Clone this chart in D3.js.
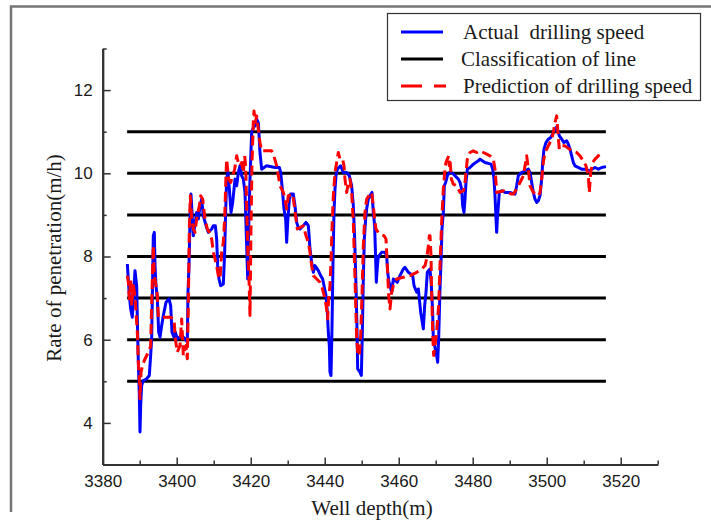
<!DOCTYPE html>
<html>
<head>
<meta charset="utf-8">
<script src="https://cdn.jsdelivr.net/npm/d3@7"></script>
<style>
  body { margin: 0; background: #fff; }
  svg { display: block; }
</style>
</head>
<body>
<div id="chart"></div>
<script>
// well depth (m), rate of penetration (m/h)
const actualSpeed = [[3386.66,7.82],[3387.2,7.06],[3387.56,6.74],[3388.0,6.54],[3388.73,7.66],[3389.18,7.30],[3389.36,6.50],[3389.63,5.46],[3389.9,4.66],[3390.08,3.78],[3390.26,4.42],[3390.53,4.90],[3390.98,5.02],[3391.88,5.06],[3392.6,5.14],[3392.96,5.62],[3393.23,6.02],[3393.5,7.46],[3393.68,8.50],[3393.95,8.58],[3394.14,7.78],[3394.4,7.30],[3394.77,6.98],[3395.13,6.18],[3395.49,6.06],[3395.94,6.34],[3396.39,6.58],[3397.11,6.90],[3397.92,6.98],[3398.37,6.82],[3398.73,6.18],[3399.27,6.06],[3399.63,6.18],[3400.17,6.02],[3401.34,6.10],[3402.24,6.02],[3402.87,5.94],[3403.05,7.14],[3403.32,7.78],[3403.59,8.82],[3403.86,9.50],[3404.14,9.06],[3404.5,8.50],[3404.86,8.74],[3405.4,9.06],[3405.85,8.90],[3406.3,9.22],[3406.75,9.38],[3407.2,8.98],[3407.92,8.74],[3408.55,8.58],[3409.45,8.66],[3409.9,8.74],[3410.44,8.74],[3410.8,8.42],[3411.07,7.78],[3411.43,7.46],[3411.88,7.30],[3412.6,7.34],[3412.96,8.10],[3413.23,9.06],[3413.5,9.86],[3413.86,10.02],[3414.23,9.62],[3414.68,9.06],[3415.13,9.30],[3415.76,9.86],[3416.21,9.70],[3416.66,10.02],[3417.11,10.18],[3417.56,9.94],[3418.01,9.86],[3418.46,9.54],[3418.91,8.26],[3419.18,7.46],[3419.45,8.66],[3419.81,9.86],[3420.26,10.98],[3420.71,11.10],[3421.16,11.14],[3421.61,11.30],[3422.06,11.22],[3422.51,10.50],[3422.96,10.10],[3424.31,10.18],[3426.57,10.14],[3427.74,10.14],[3428.1,10.02],[3428.55,9.62],[3429.0,9.14],[3429.45,8.90],[3429.72,8.34],[3430.0,8.82],[3430.44,9.38],[3430.8,9.50],[3431.52,9.50],[3431.97,9.22],[3432.42,8.82],[3432.87,8.70],[3433.32,8.66],[3434.22,8.74],[3434.94,8.82],[3435.58,8.74],[3436.03,8.18],[3436.48,7.86],[3436.93,7.62],[3437.38,7.78],[3438.28,7.66],[3438.91,7.54],[3439.45,7.46],[3439.99,7.22],[3440.35,7.06],[3440.71,6.66],[3440.98,6.18],[3441.25,5.86],[3441.43,5.22],[3441.7,5.14],[3441.97,6.26],[3442.24,7.86],[3442.51,9.06],[3442.78,9.62],[3443.05,9.94],[3443.41,10.10],[3444.31,10.18],[3445.03,10.02],[3445.94,10.02],[3446.66,9.94],[3447.29,9.70],[3447.74,9.22],[3448.1,8.42],[3448.46,7.30],[3448.73,6.26],[3448.91,5.30],[3449.54,5.22],[3449.9,5.14],[3450.17,6.18],[3450.44,7.46],[3450.71,8.42],[3451.07,8.90],[3451.34,9.14],[3451.79,9.38],[3452.24,9.46],[3452.78,9.54],[3453.14,9.06],[3453.5,8.74],[3453.77,7.94],[3453.95,7.38],[3454.13,7.62],[3454.4,7.94],[3454.68,8.02],[3455.4,8.10],[3456.3,8.10],[3456.75,8.02],[3457.02,7.62],[3457.38,7.38],[3457.65,7.30],[3458.1,7.14],[3458.55,7.46],[3459.63,7.38],[3460.35,7.54],[3461.25,7.70],[3461.7,7.74],[3462.6,7.62],[3463.24,7.58],[3463.78,7.54],[3464.14,7.30],[3464.86,7.14],[3465.31,7.22],[3465.58,6.98],[3465.94,6.66],[3466.66,6.26],[3467.02,6.82],[3467.38,7.14],[3467.74,7.62],[3468.46,7.70],[3468.82,7.30],[3469.18,6.66],[3469.36,6.02],[3469.9,5.78],[3470.26,5.62],[3470.53,5.46],[3470.8,6.02],[3471.16,7.22],[3471.43,7.86],[3471.7,8.66],[3472.06,9.06],[3472.33,9.70],[3472.69,9.78],[3473.15,9.94],[3473.69,10.02],[3474.32,10.02],[3475.22,9.94],[3476.12,9.86],[3476.57,9.78],[3477.02,9.62],[3477.29,9.22],[3477.65,9.06],[3477.92,9.38],[3478.19,9.78],[3478.55,10.10],[3479.27,10.14],[3480.17,10.22],[3481.52,10.30],[3481.97,10.34],[3483.33,10.26],[3484.95,10.22],[3485.4,10.10],[3485.76,9.86],[3486.03,9.46],[3486.3,8.90],[3486.48,8.58],[3486.66,8.90],[3486.93,9.22],[3487.2,9.54],[3487.83,9.58],[3488.73,9.54],[3490.08,9.54],[3491.43,9.50],[3491.88,9.70],[3492.33,9.94],[3493.24,10.02],[3495.04,10.10],[3495.49,10.02],[3495.94,9.78],[3496.39,9.54],[3496.84,9.38],[3497.29,9.30],[3497.74,9.34],[3498.19,9.46],[3498.64,9.86],[3498.91,10.26],[3499.27,10.58],[3499.81,10.74],[3500.44,10.82],[3501.07,10.86],[3501.61,10.94],[3502.06,11.02],[3502.51,11.10],[3502.88,11.06],[3503.42,10.90],[3504.05,10.82],[3504.68,10.74],[3505.4,10.78],[3505.85,10.70],[3506.3,10.58],[3506.75,10.42],[3507.2,10.26],[3507.65,10.18],[3509.45,10.10],[3510.35,10.10],[3511.52,10.06],[3513.06,10.14],[3513.96,10.10],[3514.86,10.14],[3516.03,10.16]];

const predictedSpeed = [[3386.66,7.54],[3386.93,7.38],[3387.2,6.98],[3387.56,7.46],[3387.83,6.82],[3388.28,7.30],[3388.73,7.06],[3389.0,6.66],[3389.36,6.18],[3389.63,5.46],[3389.9,5.06],[3390.08,4.58],[3390.35,5.22],[3390.8,5.38],[3391.25,5.50],[3391.88,5.62],[3392.6,5.74],[3392.96,5.86],[3393.23,6.82],[3393.5,7.70],[3393.68,8.26],[3393.95,7.54],[3394.4,7.30],[3394.77,7.06],[3395.04,6.54],[3396.39,6.54],[3398.19,6.54],[3399.27,6.50],[3399.63,6.02],[3400.17,5.70],[3400.89,5.86],[3401.34,6.50],[3401.79,5.62],[3402.51,5.86],[3402.87,5.54],[3403.14,6.82],[3403.41,8.66],[3403.68,9.46],[3404.05,8.90],[3404.5,8.66],[3404.95,8.58],[3405.4,8.90],[3406.12,9.22],[3406.48,9.46],[3407.02,9.38],[3407.65,8.90],[3408.28,8.66],[3408.82,8.58],[3409.45,8.42],[3409.9,8.10],[3410.35,7.94],[3410.8,7.78],[3411.25,7.54],[3411.7,7.46],[3412.15,8.10],[3412.6,8.34],[3412.96,8.90],[3413.32,9.94],[3413.5,10.34],[3413.77,10.10],[3414.05,9.86],[3414.59,9.78],[3415.13,9.94],[3415.67,10.10],[3416.21,10.42],[3416.66,10.26],[3417.11,10.18],[3417.56,10.26],[3418.01,10.02],[3418.37,10.42],[3418.64,10.18],[3418.91,9.22],[3419.18,8.26],[3419.54,7.46],[3419.81,6.58],[3420.08,8.66],[3420.35,10.26],[3420.71,11.22],[3420.89,11.50],[3421.25,11.22],[3421.61,11.38],[3422.06,11.06],[3422.51,10.74],[3422.96,10.54],[3425.67,10.54],[3426.12,10.46],[3427.02,10.18],[3427.47,9.94],[3427.92,9.70],[3428.82,9.54],[3429.27,9.38],[3429.72,9.14],[3430.17,9.46],[3431.34,9.50],[3431.79,9.22],[3432.24,8.90],[3432.6,8.66],[3434.22,8.74],[3434.94,8.50],[3435.58,8.34],[3436.03,8.10],[3436.48,7.78],[3436.93,7.54],[3437.83,7.46],[3438.73,7.38],[3439.18,7.30],[3439.63,7.14],[3440.08,6.98],[3440.53,6.74],[3440.8,6.50],[3441.07,6.98],[3441.43,7.30],[3441.7,7.86],[3441.97,8.66],[3442.33,9.46],[3442.78,10.02],[3443.23,10.26],[3443.68,10.50],[3444.13,10.34],[3444.85,10.34],[3445.21,10.18],[3445.48,9.86],[3445.94,9.54],[3446.39,9.78],[3446.84,9.86],[3447.29,9.54],[3447.74,8.82],[3448.19,7.46],[3448.64,6.02],[3449.0,5.62],[3449.36,5.62],[3449.72,6.10],[3450.08,7.06],[3450.44,8.26],[3450.89,9.06],[3451.34,9.38],[3452.24,9.50],[3452.69,9.54],[3453.14,9.22],[3453.5,8.90],[3453.86,8.66],[3454.77,8.54],[3456.03,8.50],[3456.57,8.42],[3456.93,7.78],[3457.29,7.06],[3457.65,6.74],[3458.1,7.14],[3458.55,7.30],[3459.45,7.46],[3461.25,7.50],[3463.06,7.54],[3464.86,7.62],[3466.21,7.70],[3467.11,7.78],[3467.56,7.94],[3468.01,8.26],[3468.28,8.50],[3468.46,8.50],[3468.73,8.02],[3468.91,7.14],[3469.18,6.18],[3469.45,5.62],[3469.81,5.86],[3470.26,6.18],[3470.53,6.50],[3470.8,6.82],[3471.16,7.78],[3471.61,8.82],[3472.06,9.62],[3472.51,10.10],[3472.78,10.26],[3473.15,10.34],[3473.51,10.42],[3473.69,10.18],[3473.87,10.34],[3474.23,9.86],[3474.77,9.74],[3475.67,9.70],[3476.57,9.54],[3477.47,9.58],[3477.83,9.70],[3478.19,10.02],[3478.55,10.34],[3479.27,10.50],[3480.17,10.54],[3481.07,10.50],[3481.97,10.54],[3482.87,10.50],[3483.78,10.46],[3484.68,10.42],[3485.58,10.34],[3486.03,10.10],[3486.3,9.78],[3486.48,9.54],[3488.28,9.58],[3490.53,9.50],[3490.98,9.50],[3491.88,9.62],[3492.79,9.78],[3493.69,9.94],[3494.14,10.18],[3494.59,10.42],[3495.04,10.10],[3495.49,9.70],[3496.39,9.54],[3497.74,9.46],[3498.19,9.54],[3498.64,9.86],[3499.09,10.26],[3499.54,10.50],[3500.44,10.66],[3501.34,10.82],[3501.79,10.98],[3502.24,11.22],[3502.69,11.38],[3503.14,10.86],[3503.42,10.58],[3504.05,10.66],[3504.95,10.66],[3506.75,10.54],[3508.1,10.50],[3509.0,10.42],[3509.9,10.30],[3510.62,10.18],[3511.25,9.94],[3511.52,9.54],[3511.88,10.02],[3512.42,10.26],[3513.06,10.34],[3513.96,10.42],[3514.41,10.50]];

const classLevels = [5, 6, 7, 8, 9, 10, 11];
const classFrom = 3386.6, classTo = 3516;

const xMajorTicks = [3380, 3400, 3420, 3440, 3460, 3480, 3500, 3520];
const xMinorTicks = [3390, 3410, 3430, 3450, 3470, 3490, 3510, 3530];
const yMajorTicks = [4, 6, 8, 10, 12];
const yMinorTicks = [5, 7, 9, 11, 13];

const legendLabels = ["Actual  drilling speed", "Classification of line", "Prediction of drilling speed"];

const W = 711, H = 522;
const serif = "'Liberation Serif', 'Times New Roman', serif";
const sans = "'Liberation Sans', Arial, sans-serif";

const svg = d3.select("#chart").append("svg")
    .attr("width", W)
    .attr("height", H);

svg.append("rect").attr("width", W).attr("height", H).attr("fill", "#fff");

// frame remnants on the left and top
svg.append("path")
    .attr("d", "M11,512V6.5H711")
    .attr("fill", "none")
    .attr("stroke", "#767676")
    .attr("stroke-width", 2.5);

const x = d3.scaleLinear().domain([3380, 3530]).range([102.7, 657.7]);
const y = d3.scaleLinear().domain([3, 13]).range([464.5, 48.5]);

// classification lines
svg.append("g").selectAll("line")
    .data(classLevels)
    .join("line")
        .attr("x1", x(classFrom))
        .attr("x2", x(classTo))
        .attr("y1", d => y(d))
        .attr("y2", d => y(d))
        .attr("stroke", "#000")
        .attr("stroke-width", 3);

const line = d3.line()
    .x(d => x(d[0]))
    .y(d => y(d[1]));

svg.append("path")
    .datum(actualSpeed)
    .attr("d", line)
    .attr("fill", "none")
    .attr("stroke", "#0000ff")
    .attr("stroke-width", 3)
    .attr("stroke-linejoin", "round");

svg.append("path")
    .datum(predictedSpeed)
    .attr("d", line)
    .attr("fill", "none")
    .attr("stroke", "#ff0000")
    .attr("stroke-width", 3)
    .attr("stroke-dasharray", "10,5")
    .attr("stroke-linejoin", "round");

// axes: minor ticks first, then major with labels
function styleAxis(g) {
    g.select(".domain").attr("stroke", "#333").attr("stroke-width", 2);
    g.selectAll(".tick line").attr("stroke", "#333").attr("stroke-width", 1.5);
    g.selectAll(".tick text")
        .attr("fill", "#1a1a1a")
        .style("font-family", sans)
        .style("font-size", "17px");
}

svg.append("g")
    .attr("transform", `translate(0,${y(3)})`)
    .call(d3.axisBottom(x).tickValues(xMinorTicks).tickSize(-4).tickSizeOuter(0).tickFormat(""))
    .call(styleAxis);

svg.append("g")
    .attr("transform", `translate(0,${y(3)})`)
    .call(d3.axisBottom(x).tickValues(xMajorTicks).tickSize(-7).tickSizeOuter(0).tickPadding(10).tickFormat(d3.format("d")))
    .call(styleAxis);

svg.append("g")
    .attr("transform", `translate(${x(3380)},0)`)
    .call(d3.axisLeft(y).tickValues(yMinorTicks).tickSize(-4).tickSizeOuter(0).tickFormat(""))
    .call(styleAxis);

svg.append("g")
    .attr("transform", `translate(${x(3380)},0)`)
    .call(d3.axisLeft(y).tickValues(yMajorTicks).tickSize(-8).tickSizeOuter(0).tickPadding(10))
    .call(styleAxis);

// axis titles
svg.append("text")
    .attr("x", 372)
    .attr("y", 515)
    .attr("text-anchor", "middle")
    .attr("fill", "#1a1a1a")
    .style("font-family", serif)
    .style("font-size", "21px")
    .text("Well depth(m)");

svg.append("text")
    .attr("transform", "translate(61,258) rotate(-90)")
    .attr("text-anchor", "middle")
    .attr("fill", "#1a1a1a")
    .style("font-family", serif)
    .style("font-size", "21px")
    .text("Rate of penetration(m/h)");

// legend
const legend = svg.append("g");
legend.append("rect")
    .attr("x", 387.5).attr("y", 13.5)
    .attr("width", 313).attr("height", 87)
    .attr("fill", "#fff")
    .attr("stroke", "#333")
    .attr("stroke-width", 1.2);

const legendColors = ["#0000ff", "#000", "#ff0000"];
const legendDash = [null, null, "21,12"];
const rowY = [32, 59, 86];

legendLabels.forEach((lab, i) => {
    legend.append("line")
        .attr("x1", 401).attr("x2", i === 2 ? 446 : 443)
        .attr("y1", rowY[i]).attr("y2", rowY[i])
        .attr("stroke", legendColors[i])
        .attr("stroke-width", 3)
        .attr("stroke-dasharray", legendDash[i]);
    legend.append("text")
        .attr("x", i === 1 ? 461 : 463)
        .attr("y", rowY[i] + 7)
        .attr("fill", "#1a1a1a")
        .style("font-family", serif)
        .style("font-size", "21px")
        .style("white-space", "pre")
        .text(lab);
});
</script>
</body>
</html>
